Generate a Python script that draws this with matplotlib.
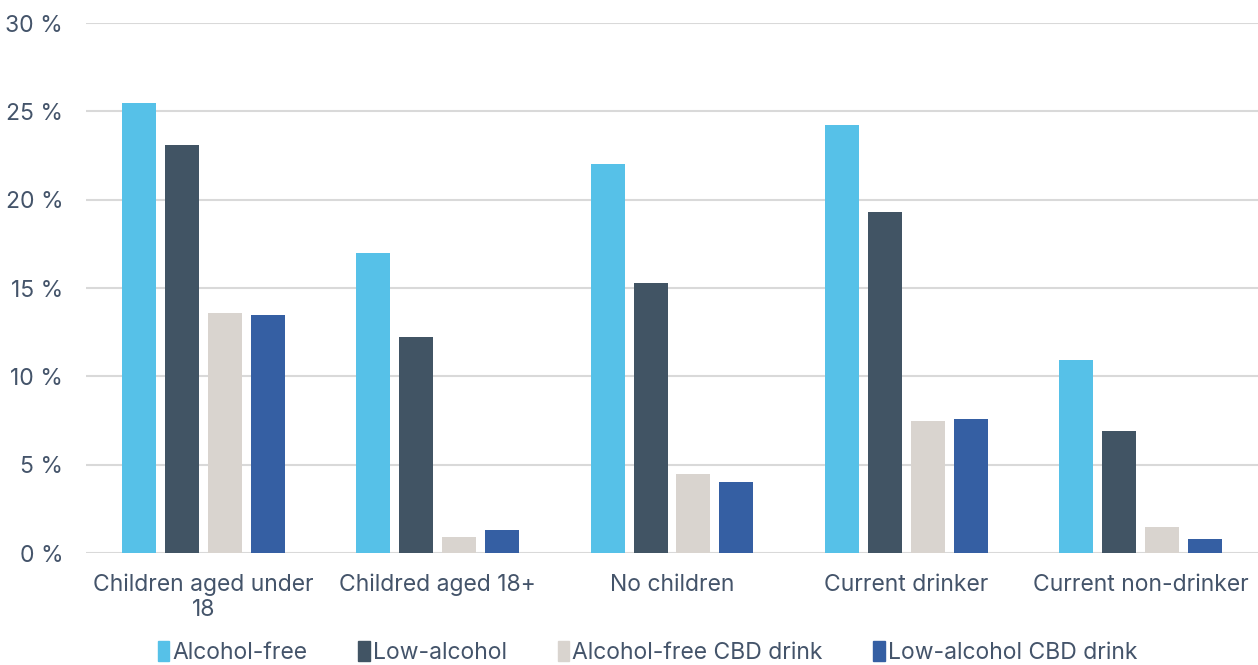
import numpy as np
import matplotlib.pyplot as plt
from matplotlib.patches import Patch

categories = ['Children aged under\n18', 'Childred aged 18+', 'No children',
              'Current drinker', 'Current non-drinker']
series = ['Alcohol-free', 'Low-alcohol', 'Alcohol-free CBD drink', 'Low-alcohol CBD drink']
alcohol_free = [25.5, 17.0, 22.0, 24.2, 10.9]
low_alcohol = [23.1, 12.2, 15.3, 19.3, 6.9]
af_cbd = [13.6, 0.9, 4.5, 7.5, 1.5]
la_cbd = [13.5, 1.3, 4.0, 7.6, 0.8]
colors = ['#56C1E8', '#415464', '#D9D4CF', '#355FA3']

plt.rcParams['font.family'] = ['Inter', 'DejaVu Sans']
txt = '#44546A'

fig = plt.figure(figsize=(12.58, 6.65), dpi=100)
ax = fig.add_axes([0.0684, 0.1684, 0.9316, 0.797])

x = np.arange(len(categories))
step = 0.183
width = 0.145
for i, (vals, c) in enumerate(zip([alcohol_free, low_alcohol, af_cbd, la_cbd], colors)):
    ax.bar(x + (i - 1.5) * step, vals, width, color=c, zorder=3)

ax.set_xlim(-0.5, len(categories) - 0.5)
ax.set_ylim(0, 30)
ax.set_yticks(range(0, 31, 5))
ax.set_yticklabels([f'{v} %' for v in range(0, 31, 5)])
ax.set_xticks(x)
ax.set_xticklabels(categories, linespacing=1.15)
ax.grid(axis='y', color='#D9D9D9', linewidth=1.5, zorder=0)
for s in ax.spines.values():
    s.set_visible(False)
ax.tick_params(length=0, labelsize=16.5, colors=txt)
ax.tick_params(axis='x', pad=15)
ax.tick_params(axis='y', pad=16.5)

handles = [Patch(color=c, label=l) for c, l in zip(colors, series)]
leg = fig.legend(handles=handles, loc='lower center', ncol=4, frameon=False,
                 bbox_to_anchor=(0.515, -0.029), fontsize=16.5, handlelength=0.5,
                 handleheight=0.95, handletextpad=0.15, columnspacing=2.2)
for t in leg.get_texts():
    t.set_color(txt)

fig.savefig('out.png', dpi=100)
